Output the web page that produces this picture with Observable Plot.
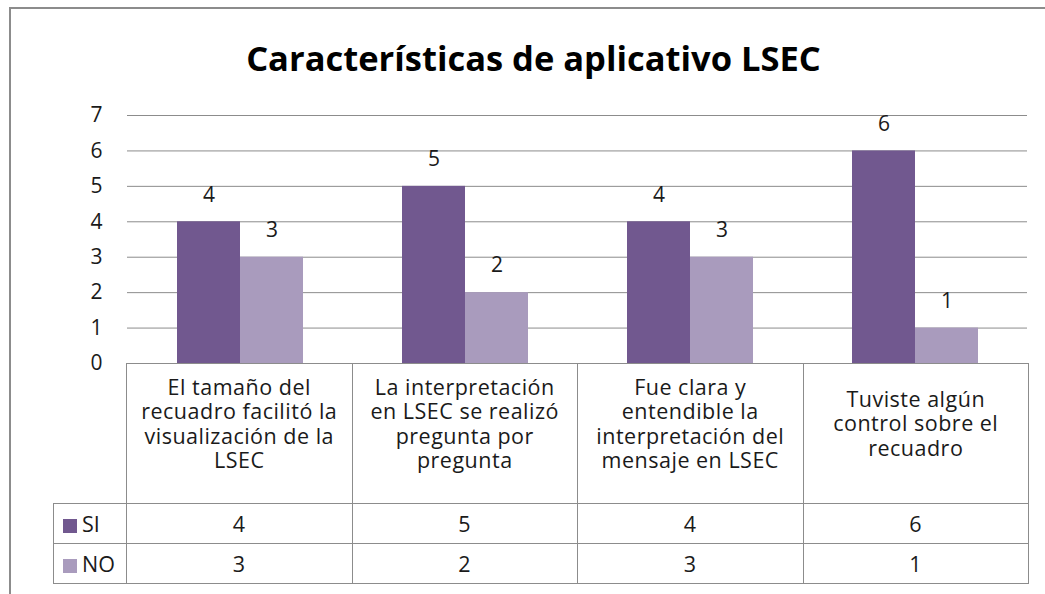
<!DOCTYPE html>
<html>
<head>
<meta charset="utf-8">
<script src="https://cdn.jsdelivr.net/npm/d3@7"></script>
<script src="https://cdn.jsdelivr.net/npm/@observablehq/plot@0.6"></script>
<style>
  html, body { margin: 0; padding: 0; background: #fff; }
  #wrap { position: relative; width: 1045px; height: 594px; overflow: hidden; background: #fff; font-family: "Open Sans", Lato, sans-serif; color: #1a1a1a; }
  #frame { position: absolute; left: 9px; top: 7px; width: 1200px; height: 800px; border: 2px solid #8c8c8c; }
  #title { position: absolute; left: 11px; width: 1045px; top: 35px; text-align: center; font-size: 34.5px; font-weight: bold; line-height: 46px; color: #000; }
  #chart { position: absolute; left: 0; top: 100px; }
  #table { position: absolute; left: 53px; top: 363px; border-collapse: collapse; table-layout: fixed; font-size: 21.5px; letter-spacing: 0.5px; }
  #table td { border: 1px solid #8c8c8c; text-align: center; padding: 0; }
  #table td.corner { border-left: none; border-top: none; }
  #table td.head { height: 119px; padding-bottom: 20px; white-space: pre-line; line-height: 24.5px; vertical-align: middle; }
  #table td.val { height: 39px; }
  #table td.leg { text-align: left; padding-left: 9px; letter-spacing: 0; }
  .sw { display: inline-block; width: 14px; height: 14px; margin-right: 5px; vertical-align: -1px; }
</style>
</head>
<body>
<div id="wrap">
  <div id="frame"></div>
  <div id="title"></div>
  <div id="chart"></div>
  <table id="table"></table>
</div>
<script>
const title = "Características de aplicativo LSEC";
const categories = [
  "El tamaño del\nrecuadro facilitó la\nvisualización de la\nLSEC",
  "La interpretación\nen LSEC se realizó\npregunta por\npregunta",
  "Fue clara y\nentendible la\ninterpretación del\nmensaje en LSEC",
  "Tuviste algún\ncontrol sobre el\nrecuadro"
];
const series = ["SI", "NO"];
const siValues = [4, 5, 4, 6];
const noValues = [3, 2, 3, 1];
const yTicks = [0, 1, 2, 3, 4, 5, 6, 7];
const colors = ["#71588F", "#A99BBD"];

const seriesValues = [siValues, noValues];
const data = categories.flatMap((c, i) => series.map((s, j) => ({cat: c, s, v: seriesValues[j][i]})));

document.getElementById("title").textContent = title;

const chart = Plot.plot({
  width: 1045,
  height: 278,
  marginTop: 15,
  marginBottom: 15,
  marginLeft: 126,
  marginRight: 17,
  style: {fontFamily: "'Open Sans', Lato, sans-serif", fontSize: "21px", color: "#1a1a1a", background: "transparent", overflow: "visible"},
  fx: {domain: categories, padding: 0, axis: null},
  x: {domain: series, paddingInner: 0, paddingOuter: 0.762, axis: null},
  y: {domain: [0, 7], axis: null},
  color: {domain: series, range: colors},
  marks: [
    Plot.ruleY(yTicks.filter(d => d > 0), {stroke: "#8c8c8c", strokeOpacity: 1, strokeWidth: 1}),
    Plot.barY(data, {fx: "cat", x: "s", y: "v", fill: "s"}),
    Plot.text(data, {fx: "cat", x: "s", y: "v", text: d => String(d.v), dy: -27, fontSize: 21, fill: "#1a1a1a"}),
    Plot.axisY({ticks: yTicks, tickSize: 0, tickPadding: 25, fontSize: 21, anchor: "left", label: null, line: true, stroke: "#8c8c8c", fill: "#1a1a1a", tickFormat: d => String(d)})
  ]
});
document.getElementById("chart").appendChild(chart);

// data table
const table = document.getElementById("table");
const colg = document.createElement("colgroup");
[73].concat(categories.map(() => 225.5)).forEach(w => {
  const c = document.createElement("col"); c.style.width = w + "px"; colg.appendChild(c);
});
table.appendChild(colg);
const hr = document.createElement("tr");
const corner = document.createElement("td"); corner.className = "corner"; hr.appendChild(corner);
categories.forEach(c => { const td = document.createElement("td"); td.className = "head"; td.textContent = c; hr.appendChild(td); });
table.appendChild(hr);
series.forEach((s, j) => {
  const tr = document.createElement("tr");
  const lg = document.createElement("td"); lg.className = "leg val";
  const sw = document.createElement("span"); sw.className = "sw"; sw.style.background = colors[j];
  lg.appendChild(sw); lg.appendChild(document.createTextNode(s)); tr.appendChild(lg);
  seriesValues[j].forEach(v => { const td = document.createElement("td"); td.className = "val"; td.textContent = v; tr.appendChild(td); });
  table.appendChild(tr);
});
</script>
</body>
</html>
